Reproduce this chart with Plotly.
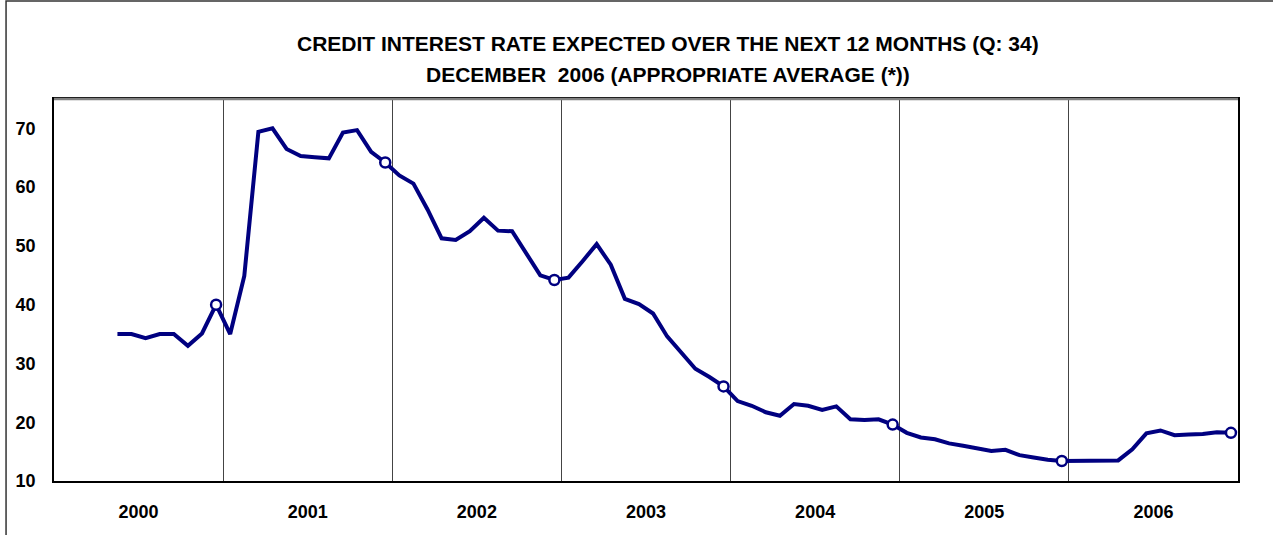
import plotly.graph_objects as go

# monthly averages, May 2000 .. Dec 2006
years = [2000, 2001, 2002, 2003, 2004, 2005, 2006]
start_month = 4  # data starts in May 2000 (0 = January)
values = [
    35.0, 35.0, 34.3, 35.0, 35.0, 33.0, 35.1, 40.0,                      # 2000
    35.0, 44.9, 69.4, 70.0, 66.5, 65.3, 65.1, 64.9, 69.3, 69.7, 66.0, 64.2,  # 2001
    62.0, 60.6, 56.2, 51.3, 51.0, 52.5, 54.8, 52.6, 52.5, 48.6, 45.0, 44.2,  # 2002
    44.6, 47.4, 50.3, 46.8, 41.0, 40.1, 38.5, 34.6, 31.8, 29.1, 27.7, 26.1,  # 2003
    23.6, 22.8, 21.7, 21.1, 23.1, 22.8, 22.1, 22.7, 20.5, 20.4, 20.5, 19.6,  # 2004
    18.2, 17.4, 17.1, 16.4, 16.0, 15.6, 15.1, 15.3, 14.4, 14.0, 13.6, 13.4,  # 2005
    13.4, 13.4, 13.4, 13.5, 15.4, 18.1, 18.6, 17.8, 17.9, 18.0, 18.3, 18.2,  # 2006
]

title_1 = "CREDIT INTEREST RATE EXPECTED OVER THE NEXT 12 MONTHS (Q: 34)"
title_2 = "DECEMBER\u00a0\u00a02006 (APPROPRIATE AVERAGE (*))"

NAVY = "#000080"
FONT = "Arial, Liberation Sans, sans-serif"

# month slot centres on a numeric axis, one unit per month
x = [start_month + i + 0.5 for i in range(len(values))]
dec_x = [xi for i, xi in enumerate(x) if (start_month + i) % 12 == 11]
dec_y = [v for i, v in enumerate(values) if (start_month + i) % 12 == 11]

fig = go.Figure()

fig.add_trace(go.Scatter(
    x=x, y=values, mode="lines",
    line=dict(color=NAVY, width=4),
    hoverinfo="skip", showlegend=False,
))

# december markers
fig.add_trace(go.Scatter(
    x=dec_x, y=dec_y, mode="markers",
    marker=dict(color="white", size=10, line=dict(color=NAVY, width=2.5)),
    showlegend=False,
))

fig.update_xaxes(
    range=[0, 12 * len(years)],
    tickvals=[12 * k + 6 for k in range(len(years))],
    ticktext=[str(y) for y in years],
    ticks="", showgrid=False, zeroline=False, automargin=False,
    ticklabelstandoff=14,
    tickfont=dict(family=FONT, size=18, color="black", weight="bold"),
    showline=True, linecolor="black", linewidth=1.5, mirror=True,
    minor=dict(tickvals=[12 * k for k in range(1, len(years))],
               showgrid=True, gridcolor="#444444", gridwidth=1, ticks=""),
)

fig.update_yaxes(
    range=[10, 75], tick0=10, dtick=10,
    ticks="", showgrid=False, zeroline=False, automargin=False,
    ticklabelstandoff=13,
    tickfont=dict(family=FONT, size=18, color="black", weight="bold"),
    showline=True, linecolor="black", linewidth=1.5, mirror=True,
)

# gray top edge of the plot area, and the outer frame
fig.add_shape(type="line", xref="paper", yref="paper", x0=0, x1=1, y0=1, y1=1,
              line=dict(color="#808080", width=2.5))
fig.add_shape(type="rect", xref="paper", yref="paper",
              x0=-0.0405, x1=1.2, y0=-0.3, y1=1.2565,
              line=dict(color="#333333", width=1.5))

fig.add_annotation(text="<b>" + title_1 + "</b>", xref="paper", yref="paper",
                   x=0.5186, y=1.144, xanchor="center", yanchor="middle",
                   showarrow=False,
                   font=dict(family=FONT, size=21, color="black"))
fig.add_annotation(text="<b>" + title_2 + "</b>", xref="paper", yref="paper",
                   x=0.5186, y=1.065, xanchor="center", yanchor="middle",
                   showarrow=False,
                   font=dict(family=FONT, size=21, color="black"))

fig.update_layout(
    width=1273, height=535,
    margin=dict(l=54, r=35, t=99, b=54),
    plot_bgcolor="white", paper_bgcolor="white",
    showlegend=False,
)

# drop the default page margin so the chart sits at the window's corner
fig.write_html("out.html", config={"displayModeBar": False},
               post_script="document.body.style.margin='0';")
